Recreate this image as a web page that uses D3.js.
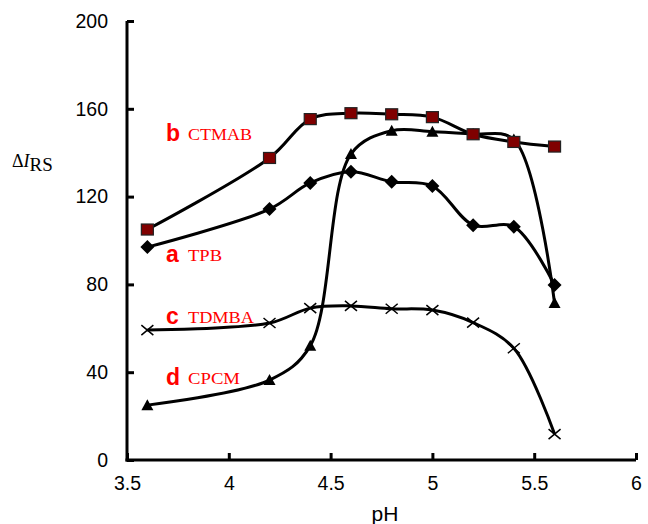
<!DOCTYPE html>
<html><head><meta charset="utf-8">
<script src="https://cdn.jsdelivr.net/npm/d3@7"></script>
<style>body{margin:0;background:#fff}svg{display:block}
.ax .domain,.ax .tick line{stroke:#000 !important;stroke-width:3px !important}
</style>
</head><body>
<script>
const pH = [3.6, 4.2, 4.4, 4.6, 4.8, 5.0, 5.2, 5.4, 5.6];
const tpb = [97, 114.3, 126.2, 131.3, 126.8, 124.8, 107, 106.3, 79.7];
const ctmab = [105, 137.6, 155.3, 158, 157.5, 156.2, 148.4, 144.9, 142.8];
const tdmba = [59.2, 62.4, 69.2, 70.2, 68.9, 68.3, 62.6, 50.9, 11.8];
const cpcm = [25, 36.4, 52, 139.4, 150, 149.6, 148.5, 146, 71.5];
const xTicks = [3.5, 4, 4.5, 5, 5.5, 6];
const yTicks = [0, 40, 80, 120, 160, 200];

const W = 648, H = 524;
const svg = d3.select("body").append("svg").attr("width", W).attr("height", H);
const x = d3.scaleLinear().domain([3.5, 6]).range([127, 636]);
const y = d3.scaleLinear().domain([0, 200]).range([460, 21]);

const sans = "Liberation Sans, Arial, sans-serif";
const serif = "Liberation Serif, Times New Roman, serif";

// axes
const xAxis = svg.append("g").attr("class", "ax").attr("transform", `translate(0,${y(0)})`)
  .call(d3.axisBottom(x).tickValues(xTicks).tickSize(-7).tickFormat(d => String(d)).tickPadding(16));
const yAxis = svg.append("g").attr("class", "ax").attr("transform", `translate(${x(3.5)},0)`)
  .call(d3.axisLeft(y).tickValues(yTicks).tickSize(-7).tickPadding(19));
[xAxis, yAxis].forEach(g => {
  g.selectAll("text").attr("font-family", sans).attr("font-size", 19.5).attr("fill", "#000");
});
xAxis.select(".domain").attr("d", `M${x(3.5)-1.5},0H${x(6)}`);
yAxis.select(".domain").attr("d", `M0,${y(0)+1.5}V${y(200)}`);

svg.append("text").attr("x", 385).attr("y", 521).attr("text-anchor", "middle")
  .attr("font-family", sans).attr("font-size", 21).text("pH");

const yl = svg.append("text").attr("x", 12).attr("y", 166.5)
  .attr("font-family", serif).attr("font-size", 18);
yl.append("tspan").text("Δ");
yl.append("tspan").attr("font-style", "italic").text("I");
yl.append("tspan").attr("dy", 4.5).attr("font-size", 19).text("RS");

const line = d3.line().x(d => x(d[0])).y(d => y(d[1])).curve(d3.curveCatmullRom.alpha(0.5));
const series = [tpb, ctmab, tdmba, cpcm];
series.forEach(vals => {
  svg.append("path").attr("d", line(pH.map((p, i) => [p, vals[i]])))
    .attr("fill", "none").attr("stroke", "#000").attr("stroke-width", 3);
});

// markers
const pts = v => pH.map((p, i) => [x(p), y(v[i])]);
pts(tpb).forEach(([px, py]) => svg.append("path")
  .attr("d", `M${px},${py-7}L${px+7},${py}L${px},${py+7}L${px-7},${py}Z`).attr("fill", "#000"));
pts(tdmba).forEach(([px, py]) => svg.append("path")
  .attr("d", `M${px-6},${py-5}L${px+6},${py+5}M${px-6},${py+5}L${px+6},${py-5}`).attr("stroke", "#000").attr("stroke-width", 1.5));
pts(cpcm).forEach(([px, py]) => svg.append("path")
  .attr("d", `M${px},${py-6}L${px+6},${py+5}L${px-6},${py+5}Z`).attr("fill", "#000"));
pts(ctmab).forEach(([px, py]) => svg.append("rect")
  .attr("x", px-6).attr("y", py-5.5).attr("width", 12).attr("height", 11)
  .attr("fill", "#800000").attr("stroke", "#222").attr("stroke-width", 1.2));

// labels
const labels = [["b", "CTMAB", 141, 64], ["a", "TPB", 262, 34], ["c", "TDMBA", 324, 66], ["d", "CPCM", 385, 52]];
labels.forEach(([l, n, by, w]) => {
  svg.append("text").attr("x", 166).attr("y", by).attr("fill", "#ff0000")
    .attr("font-family", sans).attr("font-weight", "bold").attr("font-size", 23).text(l);
  svg.append("text").attr("x", 188).attr("y", by - 1).attr("fill", "#ff0000")
    .attr("font-family", serif).attr("font-size", 16)
    .attr("textLength", w).attr("lengthAdjust", "spacingAndGlyphs").text(n);
});
</script>
</body></html>
